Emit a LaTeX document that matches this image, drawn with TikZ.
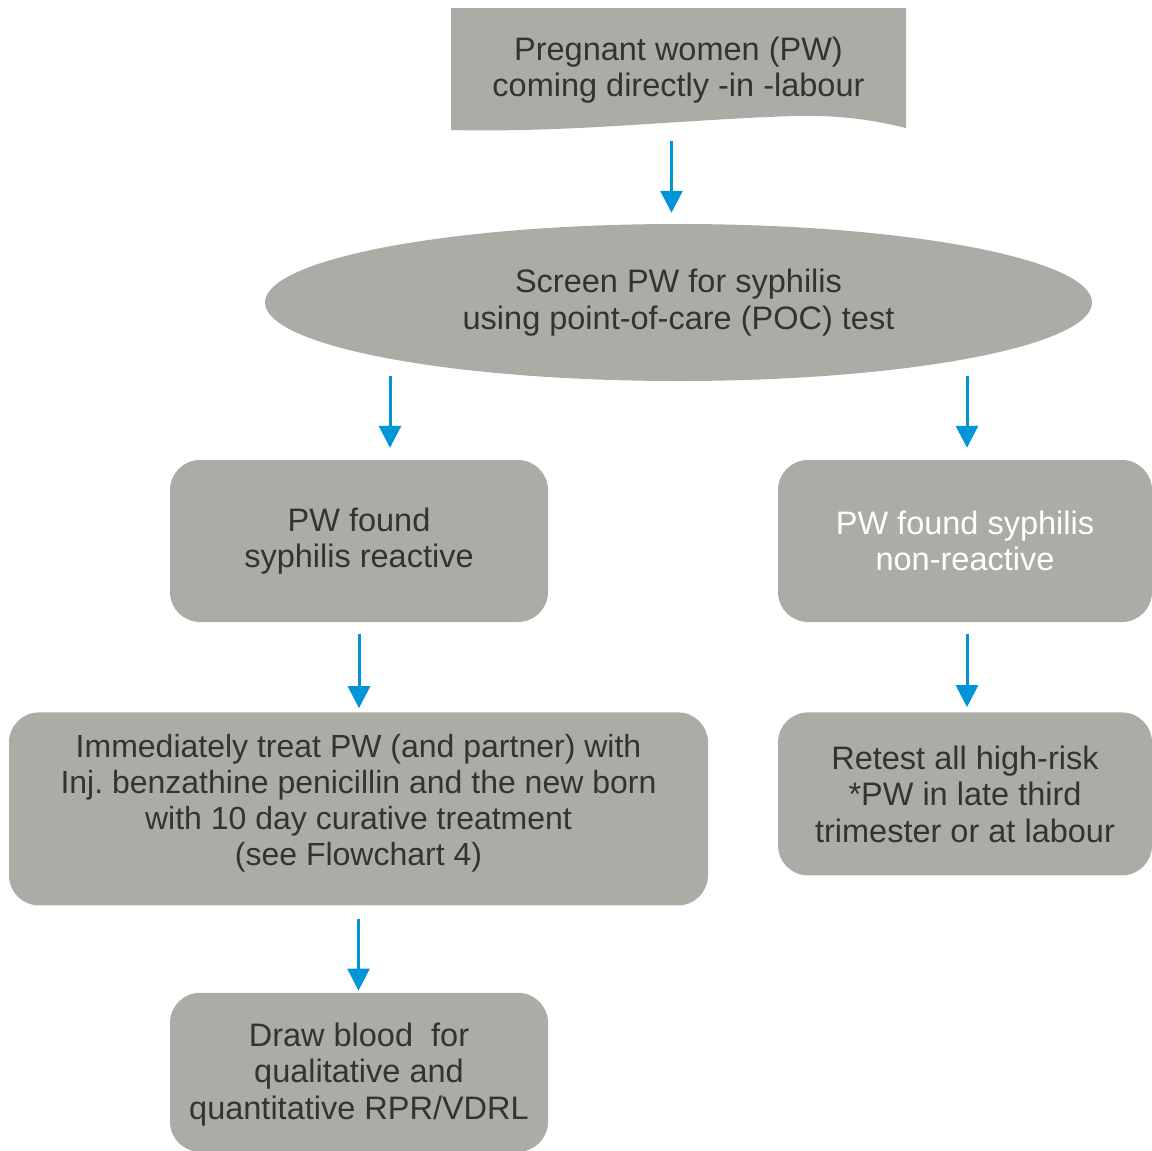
\documentclass[tikz,border=0pt]{standalone}
\usepackage{fontspec}
\setmainfont{Liberation Sans}
\usetikzlibrary{arrows.meta,positioning,shapes.geometric,backgrounds}
\definecolor{boxgray}{HTML}{ACACA6}
\definecolor{txtgray}{HTML}{333333}
\definecolor{arrowblue}{HTML}{0095D9}
\frenchspacing

\begin{document}
\begin{tikzpicture}[x=1pt,y=-1pt,
  every node/.style={font=\fontsize{32.5}{36.5}\selectfont, text=txtgray, align=center},
  stepbox/.style={fill=boxgray, rounded corners=30pt, inner sep=0pt},
  flow/.style={draw=arrowblue, line width=3pt, -{Triangle[length=22pt,width=22pt]}, shorten <=10pt}]
  \useasboundingbox (0,0) rectangle (1152,1151);

  \node (start) [minimum width=455pt, minimum height=122pt, inner sep=0pt] at (678.5,70) {Pregnant women (PW)\\coming directly -in -labour};
  \node (screen) [ellipse, fill=boxgray, minimum width=827pt, minimum height=157pt, inner sep=0pt] at (678.5,302.5) {Screen PW for syphilis\\using point-of-care (POC) test};
  \node (react) [stepbox, minimum width=378pt, minimum height=162pt] at (359,541) {PW found\\syphilis reactive};
  \node (nonreact) [stepbox, minimum width=374pt, minimum height=162pt, text=white] at (965,541) {PW found syphilis\\non-reactive};
  \node (treat) [below=90pt of react, xshift=-0.5pt, stepbox, minimum width=699pt, minimum height=193pt, font=\fontsize{32}{36}\selectfont] {Immediately treat PW (and partner) with\\Inj. benzathine penicillin and the new born\\with 10 day curative treatment\\(see Flowchart 4)\rule[-19pt]{0pt}{0pt}};
  \node (retest) [below=90pt of nonreact, stepbox, minimum width=374pt, minimum height=163pt] {Retest all high-risk\\*PW in late third\\trimester or at labour};
  \node (blood) [below=87pt of treat, xshift=0.5pt, stepbox, minimum width=378pt, minimum height=159pt] {\rule{0pt}{28pt}Draw blood\ \ for\\qualitative and\\quantitative RPR/VDRL};

  % wavy document shape behind the first node
  \begin{scope}[on background layer]
    \fill[boxgray] (451,8) -- (906,8) -- (906,128)
      .. controls (870,119) and (835,115) .. (795,116)
      .. controls (690,119) and (570,133) .. (451,130) -- cycle;
  \end{scope}

  \draw[flow, shorten >=11pt] ([xshift=-7pt]start.south) -- ([xshift=-7pt]start.south |- screen.north);
  \draw[flow, shorten <=-5pt, shorten >=12pt] ([xshift=31pt]react.north |- screen.south) -- ([xshift=31pt]react.north);
  \draw[flow, shorten <=-5pt, shorten >=12pt] ([xshift=2pt]nonreact.north |- screen.south) -- ([xshift=2pt]nonreact.north);
  \draw[flow, shorten <=12pt, shorten >=4pt] (react.south) -- (react.south |- treat.north);
  \draw[flow, shorten <=12pt, shorten >=5pt] ([xshift=2pt]nonreact.south) -- ([xshift=2pt]nonreact.south |- retest.north);
  \draw[flow, shorten <=13pt, shorten >=2pt] (treat.south) -- (treat.south |- blood.north);
\end{tikzpicture}
\end{document}
